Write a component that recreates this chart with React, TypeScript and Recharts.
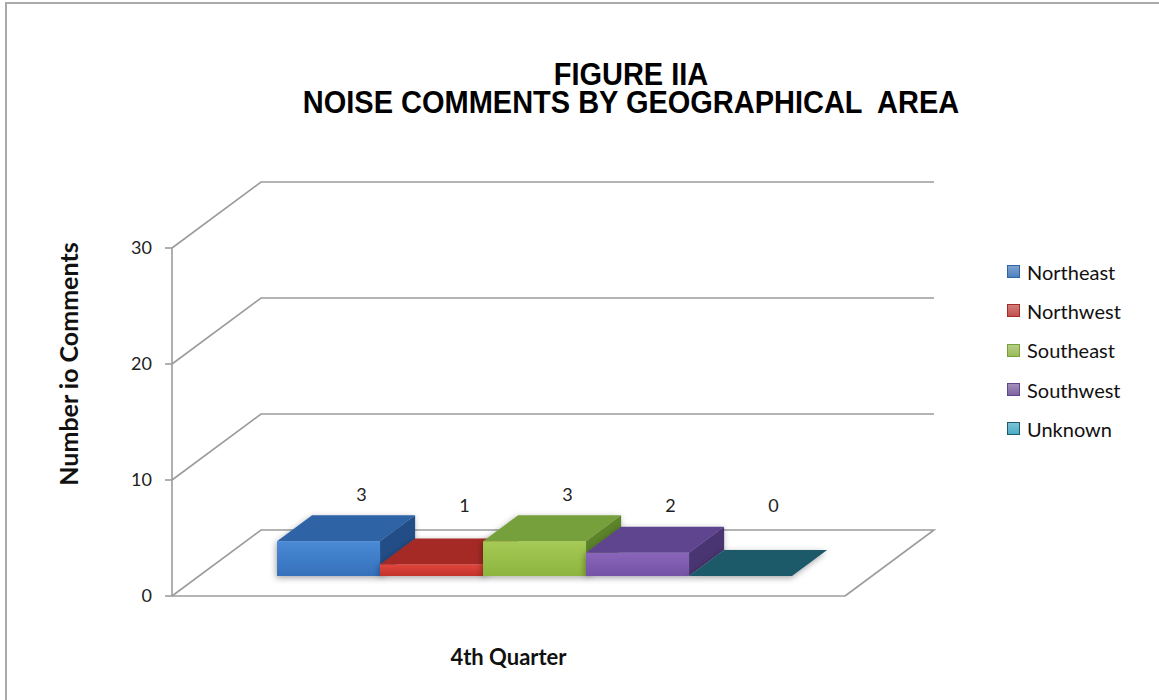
import React from 'react';
import { BarChart, Bar, XAxis, YAxis, CartesianGrid, Legend, LabelList } from 'recharts';

// ---------- data ----------
const quarters = ['4th Quarter'];
const areas = ['Northeast', 'Northwest', 'Southeast', 'Southwest', 'Unknown'];
const comments = [3, 1, 3, 2, 0];
const yTicks = [0, 10, 20, 30];
const titleLines = ['FIGURE IIA', 'NOISE COMMENTS BY GEOGRAPHICAL  AREA'];
const yTitle = 'Number io Comments';

const data = quarters.map((q) => {
  const row: Record<string, any> = { quarter: q };
  areas.forEach((a, i) => {
    row[a] = comments[i];
  });
  return row;
});

// ---------- styles ----------
const legendColors = ['#4f81bd', '#c0504d', '#9bbb59', '#8064a2', '#4bacc6'];
const faces = [
  { front1: '#4a8ad6', front2: '#3570bb', top: '#2e63a6', side: '#234e86' },
  { front1: '#e0473d', front2: '#c3322a', top: '#a52c25', side: '#85221c' },
  { front1: '#a6ca55', front2: '#8db53e', top: '#76a03a', side: '#5c8429' },
  { front1: '#8a66bb', front2: '#7352a4', top: '#5e4590', side: '#483471' },
  { front1: '#2a8aa2', front2: '#1f6e82', top: '#1d5a6a', side: '#164a57' },
];
const WALL_DX = 89;
const WALL_DY = -66;
const F0 = 0.303;
const F1 = 0.697;
const GRID = '#9c9c9c';
const SANS = 'Lato, "Open Sans", sans-serif';
const TITLE_FONT = '"Liberation Sans", Arial, sans-serif';

const makeShape = (i: number) => (props: any) => {
  const { x, y, width, height } = props;
  if (x == null || y == null) return null;
  const w = width;
  const h = Math.max(0, height || 0);
  const x0 = x + WALL_DX * F0;
  const y0 = y + WALL_DY * F0;
  const bx = x + WALL_DX * F1;
  const by = y + WALL_DY * F1;
  const c = faces[i];
  const top = `${x0},${y0} ${x0 + w},${y0} ${bx + w},${by} ${bx},${by}`;
  const side = `${x0 + w},${y0} ${bx + w},${by} ${bx + w},${by + h} ${x0 + w},${y0 + h}`;
  return (
    <g filter="url(#barShadow)">
      {h > 0 && <polygon points={side} fill={c.side} />}
      <polygon points={top} fill={c.top} />
      {h > 0 && <rect x={x0} y={y0} width={w} height={h} fill={`url(#front${i})`} />}
    </g>
  );
};
const shapes = areas.map((_, i) => makeShape(i));

const renderValueLabel = (props: any) => {
  const { x, y, width, height, value } = props;
  if (x == null) return null;
  const base = y + (height || 0);
  const cx = x + width / 2 + WALL_DX * F1 - 2;
  const ty = Math.min(y - 60, base - 84);
  return (
    <text x={cx} y={ty} textAnchor="middle" fontFamily={SANS} fontSize={18} fill="#222">
      {value}
    </text>
  );
};

const wallLine = (p: any) => {
  const { x1, y1, x2, key } = p;
  const floorY = (p.y ?? 0) + (p.height ?? 0);
  const isFloor = Math.abs(y1 - floorY) < 1;
  let d = `M${x1},${y1} L${x1 + WALL_DX},${y1 + WALL_DY} L${x2 + WALL_DX},${y1 + WALL_DY}`;
  if (isFloor) d += ` L${x2},${y1}`;
  return <path key={key} d={d} fill="none" stroke={GRID} strokeWidth={1.6} />;
};

const renderXTick = (p: any) => {
  const { x, y, payload } = p;
  return (
    <text x={x} y={y + 61} textAnchor="middle" fontFamily={SANS} fontWeight={700} fontSize={22} fill="#111">
      {payload.value}
    </text>
  );
};

const renderYLabel = (p: any) => {
  const vb = p.viewBox || {};
  const cy = vb.y + vb.height / 2 + WALL_DY + 8;
  const cx = 78;
  return (
    <text
      x={cx}
      y={cy}
      transform={`rotate(-90 ${cx} ${cy})`}
      textAnchor="middle"
      fontFamily={SANS}
      fontWeight={700}
      fontSize={25}
      fill="#111"
    >
      {yTitle}
    </text>
  );
};

const renderLegend = (p: any) => {
  const items = p.payload || [];
  return (
    <div style={{ whiteSpace: 'nowrap', fontFamily: SANS, fontSize: 20, color: '#111' }}>
      {items.map((it: any, i: number) => (
        <div key={it.value} style={{ display: 'flex', alignItems: 'center', height: 39.3 }}>
          <span
            style={{
              display: 'inline-block',
              flexShrink: 0,
              width: 11,
              height: 11,
              marginRight: 7,
              background: `linear-gradient(${legendColors[i]}bb, ${it.color})`,
              border: `1px solid ${faces[i].top}`,
            }}
          />
          <span style={{ flexShrink: 0 }}>{it.value}</span>
        </div>
      ))}
    </div>
  );
};

export default function App() {
  return (
    <div
      style={{
        position: 'absolute',
        left: 0,
        top: 0,
        width: 1159,
        height: 700,
        overflow: 'hidden',
        background: '#fff',
      }}
    >
      <div
        style={{
          position: 'absolute',
          left: 5,
          top: 2,
          width: 1300,
          height: 800,
          borderLeft: '2px solid #a9a9a9',
          borderTop: '2px solid #a9a9a9',
        }}
      />
      <div style={{ position: 'absolute', left: 0, top: 0 }}>
        <BarChart
          width={1159}
          height={700}
          data={data}
          margin={{ top: 248, right: 314, bottom: 74, left: 112 }}
          barCategoryGap="11.6%"
          barGap={0}
        >
          <defs>
            {faces.map((c, i) => (
              <linearGradient key={i} id={`front${i}`} x1="0" y1="0" x2="0" y2="1">
                <stop offset="0%" stopColor={c.front1} />
                <stop offset="100%" stopColor={c.front2} />
              </linearGradient>
            ))}
            <filter id="barShadow" x="-20%" y="-50%" width="140%" height="200%">
              <feDropShadow dx="-1" dy="2" stdDeviation="3" floodColor="#000" floodOpacity="0.35" />
            </filter>
          </defs>
          <text
            textAnchor="middle"
            fontFamily={TITLE_FONT}
            fontWeight={700}
            fontSize={32}
            fill="#000"
            transform="translate(631 0) scale(0.906 1)"
            style={{ whiteSpace: 'pre' }}
          >
            <tspan x={0} y={85}>{titleLines[0]}</tspan>
            <tspan x={0} y={113}>{titleLines[1]}</tspan>
          </text>
          <CartesianGrid vertical={false} horizontal={wallLine} />
          <XAxis
            dataKey="quarter"
            height={30}
            interval={0}
            axisLine={{ stroke: GRID, strokeWidth: 1.6 }}
            tickLine={false}
            tick={renderXTick}
          />
          <YAxis
            width={60}
            domain={[0, 30]}
            ticks={yTicks}
            interval={0}
            axisLine={{ stroke: GRID, strokeWidth: 1.6 }}
            tickLine={{ stroke: GRID, strokeWidth: 1.6 }}
            tickSize={7}
            tickMargin={13}
            tick={{ fontFamily: SANS, fontSize: 18, fill: '#222' }}
            label={renderYLabel}
          />
          <Legend
            layout="vertical"
            align="right"
            verticalAlign="top"
            content={renderLegend}
            wrapperStyle={{ position: 'absolute', left: 1007, top: 252, width: 0, height: 0, overflow: 'visible' }}
          />
          {areas.map((a, i) => (
            <Bar
              key={a}
              dataKey={a}
              name={a}
              fill={legendColors[i]}
              shape={shapes[i]}
              isAnimationActive={false}
            >
              <LabelList dataKey={a} content={renderValueLabel} />
            </Bar>
          ))}
        </BarChart>
      </div>
    </div>
  );
}
